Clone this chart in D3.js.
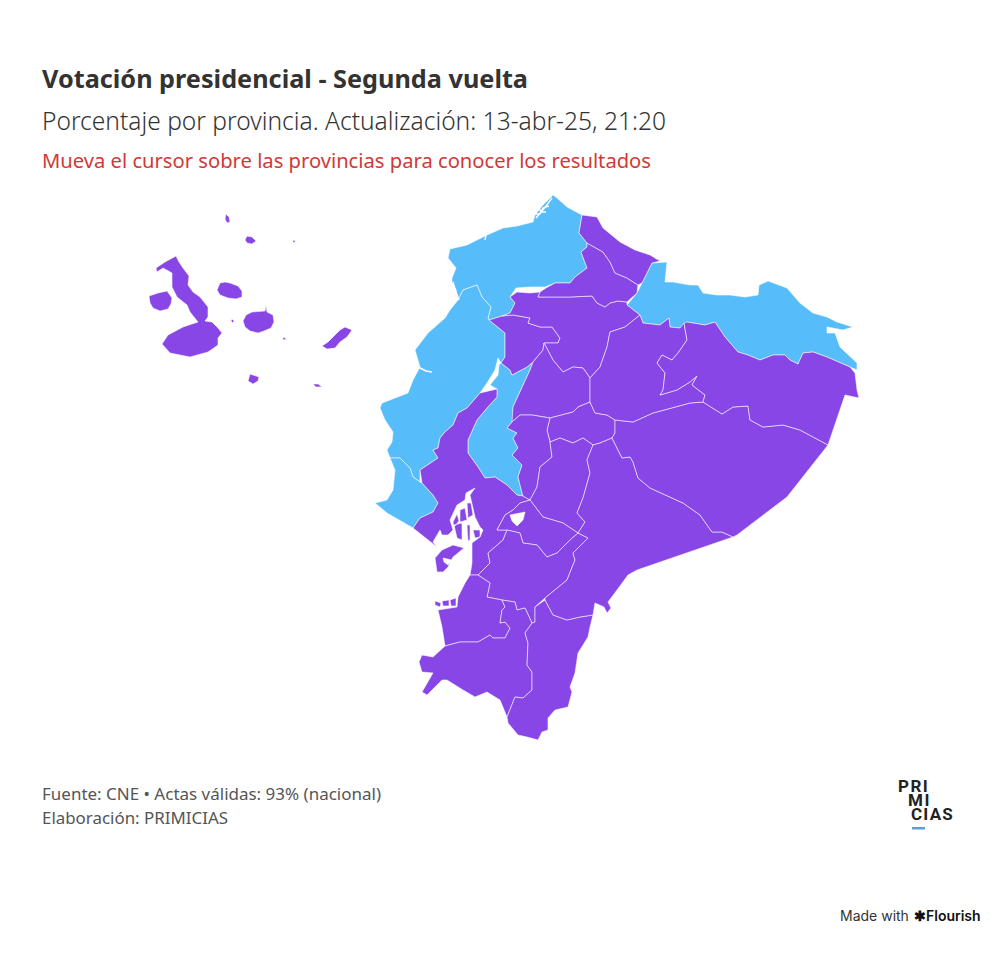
<!DOCTYPE html>
<html>
<head>
<meta charset="utf-8">
<script src="https://cdn.jsdelivr.net/npm/d3@7"></script>
<style>
  body { margin: 0; background: #fff; }
  svg { display: block; }
  text { font-family: "Noto Sans", Lato, sans-serif; }
</style>
</head>
<body>
<svg id="chart" width="1000" height="975"></svg>
<script>
// Who won each province
const candidates = ["Daniel Noboa", "Luisa González"];
const candidateColors = ["#8846e6", "#57bdfa"];

const provinceNames = [
  "Esmeraldas", "Manabí", "Santa Elena", "Los Ríos", "Sucumbíos",
  "Guayas", "Santo Domingo", "Pichincha", "Imbabura", "Carchi", "Cotopaxi",
  "Tungurahua", "Bolívar", "Chimborazo", "Cañar", "Azuay", "El Oro", "Loja",
  "Zamora Chinchipe", "Morona Santiago", "Pastaza", "Napo", "Orellana", "Galápagos"
];
const provinceWinners = [
  "Luisa González", "Luisa González", "Luisa González", "Luisa González", "Luisa González",
  "Daniel Noboa", "Daniel Noboa", "Daniel Noboa", "Daniel Noboa", "Daniel Noboa", "Daniel Noboa",
  "Daniel Noboa", "Daniel Noboa", "Daniel Noboa", "Daniel Noboa", "Daniel Noboa", "Daniel Noboa", "Daniel Noboa",
  "Daniel Noboa", "Daniel Noboa", "Daniel Noboa", "Daniel Noboa", "Daniel Noboa", "Daniel Noboa"
];

// Outlines, in map units (rings are closed in code)
const esmeraldas = [[[557,198],[567,207],[582,215],[579,233],[587,243],[587,247],[581,252],[587,268],[575,277],[570,283],[555,283],[545,287],[530,287],[516,288],[510,297],[515,303],[510,313],[502,316],[489,320],[488,318],[491,307],[482,297],[477,285],[463,290],[458,300],[456,290],[452,282],[452,278],[456,268],[448,258],[450,249],[467,245],[477,240],[487,235],[503,228],[517,226],[533,222],[535,215],[543,205],[549,199],[553,195]]];
const manabi = [[[458,300],[463,290],[477,285],[482,297],[491,307],[488,318],[489,320],[505,333],[505,357],[501,363],[498,358],[495,370],[487,383],[480,393],[467,408],[458,413],[453,425],[445,432],[440,438],[438,448],[433,450],[438,458],[420,470],[420,482],[413,477],[410,468],[400,458],[390,458],[387,450],[392,442],[393,432],[385,420],[380,408],[382,403],[408,393],[413,380],[420,367],[415,350],[428,333],[445,318],[450,310]]];
const santaElena = [[[390,458],[400,458],[410,468],[413,477],[420,482],[422,483],[433,495],[438,503],[433,512],[420,518],[413,528],[387,513],[375,503],[387,500],[393,490],[395,470]]];
const losRios = [[[499,365],[501,363],[510,370],[512,375],[527,367],[533,362],[530,370],[513,407],[513,418],[512,422],[507,428],[517,433],[513,438],[518,448],[512,455],[522,465],[518,477],[522,493],[523,496],[517,495],[507,485],[495,477],[485,478],[478,467],[468,453],[468,440],[477,420],[487,408],[497,397],[497,389],[490,385],[498,375]]];
const sucumbios = [[[652,263],[667,262],[665,282],[673,282],[690,285],[698,285],[703,293],[717,295],[730,295],[745,297],[758,295],[759,285],[768,281],[787,288],[800,303],[813,313],[827,317],[837,322],[853,327],[843,330],[827,327],[827,333],[835,333],[840,347],[857,363],[857,370],[850,367],[827,357],[813,352],[803,353],[798,364],[790,360],[785,355],[773,355],[760,360],[748,355],[738,352],[725,337],[715,322],[705,325],[687,322],[680,328],[670,327],[669,318],[660,325],[643,323],[640,315],[627,305],[637,293],[642,283]]];
const guayas = [
  [[480,393],[497,389],[497,397],[487,408],[477,420],[468,440],[468,453],[478,467],[485,478],[495,477],[507,485],[517,495],[523,496],[530,500],[520,503],[513,510],[505,515],[497,530],[507,530],[503,540],[488,553],[490,563],[478,575],[470,575],[472,563],[472,543],[480,537],[483,530],[480,527],[475,517],[470,495],[475,488],[466,493],[465,500],[457,505],[450,520],[453,530],[448,535],[442,535],[440,530],[433,542],[437,547],[413,528],[420,518],[433,512],[438,503],[433,495],[422,483],[420,470],[438,458],[433,450],[438,448],[440,438],[445,432],[453,425],[458,413],[467,408]],
  [[454,525],[462,523],[462,540],[457,538]],
  [[467,525],[470,525],[470,540],[468,541]],
  [[473,530],[480,530],[480,537],[475,538]],
  [[460,510],[465,508],[467,520],[460,522]],
  [[467,503],[471,503],[473,515],[468,518]],
  [[453,522],[457,514],[459,521],[454,527]],
  [[435,558],[442,550],[453,545],[464,548],[458,553],[453,557],[448,567],[443,572],[437,572]],
  [[443,558],[452,560],[448,565],[444,562]]
];
const santoDomingo = [[[489,320],[502,316],[513,315],[530,318],[528,323],[540,327],[552,327],[560,338],[558,343],[544,343],[543,350],[533,362],[527,367],[512,375],[510,370],[501,363],[505,357],[505,333]]];
const pichincha = [[[510,297],[517,292],[530,293],[540,292],[538,297],[550,297],[570,297],[592,296],[597,303],[605,307],[610,303],[618,301],[627,302],[627,305],[640,315],[625,327],[610,332],[607,347],[600,367],[590,378],[583,368],[573,367],[563,372],[553,360],[544,343],[558,343],[560,338],[552,327],[540,327],[528,323],[530,318],[513,315],[502,316],[510,313],[515,303]]];
const imbabura = [[[538,297],[540,292],[546,288],[555,283],[570,283],[575,277],[587,268],[581,252],[587,247],[587,243],[603,252],[610,262],[615,273],[627,278],[638,285],[637,293],[627,302],[618,301],[610,303],[605,307],[597,303],[592,296],[570,297],[550,297]]];
const carchi = [[[582,215],[597,217],[603,228],[620,242],[635,250],[650,255],[660,261],[652,263],[642,283],[638,285],[627,278],[615,273],[610,262],[603,252],[587,243],[579,233]]];
const cotopaxi = [[[544,343],[553,360],[563,372],[573,367],[583,368],[590,378],[590,402],[578,407],[573,412],[550,418],[532,415],[520,415],[512,422],[513,407],[530,370],[533,362],[543,350]]];
const tungurahua = [[[550,418],[573,412],[578,407],[590,402],[595,413],[607,415],[615,420],[615,433],[612,438],[600,443],[593,445],[583,438],[573,443],[560,438],[550,442],[547,430]]];
const bolivar = [[[512,422],[520,415],[532,415],[550,418],[547,430],[550,442],[552,457],[540,467],[537,487],[530,500],[523,496],[522,493],[518,477],[522,465],[512,455],[518,448],[513,438],[517,433],[507,428]]];
const chimborazo = [[[550,442],[560,438],[573,443],[583,438],[593,445],[587,460],[590,473],[583,498],[577,513],[585,522],[578,533],[563,523],[543,517],[530,500],[537,487],[540,467],[552,457]]];
const canar = [
  [[530,500],[543,517],[563,523],[578,533],[570,540],[557,553],[547,557],[537,545],[523,543],[520,533],[507,530],[497,530],[505,515],[513,510],[520,503]],
  [[510,515],[525,512],[523,520],[517,526],[512,521]]
];
const azuay = [[[503,540],[507,530],[520,533],[523,543],[537,545],[547,557],[557,553],[570,540],[578,533],[588,538],[583,543],[573,553],[575,560],[567,580],[545,598],[535,607],[535,622],[532,623],[525,608],[517,610],[515,602],[502,600],[487,597],[490,583],[478,575],[490,563],[488,553]]];
const elOro = [
  [[470,575],[478,575],[490,583],[487,597],[502,600],[505,607],[502,610],[500,623],[505,622],[510,628],[505,638],[493,638],[490,635],[478,642],[460,642],[445,646],[442,627],[438,610],[457,607],[458,597],[465,583]],
  [[435,601],[441,603],[440,607],[435,605]],
  [[442,601],[449,600],[449,606],[443,606]],
  [[450,600],[456,598],[456,606],[451,606]]
];
const loja = [[[445,646],[460,642],[478,642],[490,635],[493,638],[505,638],[510,628],[505,622],[500,623],[502,610],[505,607],[502,600],[515,602],[517,610],[525,608],[532,623],[525,633],[528,643],[527,665],[532,672],[532,690],[523,698],[515,697],[507,717],[500,700],[487,692],[475,697],[463,690],[447,680],[442,680],[427,695],[422,692],[433,673],[422,672],[419,662],[422,655],[433,657]]];
const zamora = [[[545,600],[553,615],[567,620],[580,617],[593,615],[590,627],[588,637],[578,653],[575,673],[570,687],[572,692],[568,707],[555,710],[548,718],[548,730],[542,732],[538,740],[527,737],[518,735],[508,723],[507,717],[515,697],[523,698],[532,690],[532,672],[527,665],[528,643],[525,633],[532,623],[535,622],[535,607]]];
const morona = [[[612,438],[622,458],[630,457],[633,462],[638,478],[650,488],[683,503],[700,515],[712,532],[722,532],[733,537],[637,570],[628,575],[617,590],[608,602],[611,608],[607,613],[604,607],[595,603],[593,615],[580,617],[567,620],[553,615],[545,600],[545,598],[567,580],[575,560],[573,553],[583,543],[588,538],[578,533],[585,522],[577,513],[583,498],[590,473],[587,460],[593,445],[600,443]]];
const pastaza = [[[615,420],[633,422],[653,413],[690,403],[703,402],[722,414],[733,407],[748,406],[750,420],[763,427],[783,425],[800,430],[828,445],[787,497],[737,535],[733,537],[722,532],[712,532],[700,515],[683,503],[650,488],[638,478],[633,462],[630,457],[622,458],[612,438],[615,433]]];
const napo = [[[640,315],[625,327],[610,332],[607,347],[600,367],[590,378],[590,402],[595,413],[607,415],[615,420],[633,422],[653,413],[690,403],[703,402],[705,395],[692,385],[697,376],[690,382],[677,390],[660,395],[663,390],[665,373],[657,363],[662,355],[672,360],[678,353],[687,340],[684,323],[680,328],[670,327],[669,318],[660,325],[643,323]]];
const orellana = [[[684,323],[687,322],[705,325],[715,322],[725,337],[738,352],[748,355],[760,360],[773,355],[785,355],[790,360],[798,364],[803,353],[813,352],[827,357],[850,367],[855,373],[857,390],[859,398],[845,395],[828,445],[800,430],[783,425],[763,427],[750,420],[748,406],[733,407],[722,414],[703,402],[705,395],[692,385],[697,376],[690,382],[677,390],[660,395],[663,390],[665,373],[657,363],[662,355],[672,360],[678,353],[687,340]]];
const galapagos = [
  [[176,256],[179,262],[183,268],[189,276],[188,285],[193,292],[200,297],[208,307],[208,317],[205,321],[212,322],[218,328],[222,333],[218,338],[218,345],[208,352],[190,357],[170,353],[162,344],[168,335],[183,327],[198,322],[190,312],[187,305],[177,297],[172,287],[172,273],[163,268],[157,272],[156,268],[165,262]],
  [[149,296],[158,293],[167,291],[172,298],[171,304],[168,309],[160,311],[153,308],[150,303]],
  [[217,290],[220,283],[225,282],[230,283],[238,286],[242,291],[242,297],[236,299],[228,298],[220,295]],
  [[266,305],[267,312],[273,315],[274,322],[271,328],[264,331],[258,333],[250,331],[245,327],[243,321],[246,315],[252,312],[265,311]],
  [[345,327],[352,330],[347,337],[340,342],[335,348],[327,349],[322,346],[328,342],[335,335],[340,330]],
  [[250,374],[259,377],[258,381],[253,384],[248,381]],
  [[313,384],[318,384],[322,387],[316,387]],
  [[226,214],[229,217],[230,222],[227,223],[225,219]],
  [[247,236],[252,237],[256,241],[252,244],[247,243],[245,240]],
  [[293,240],[296,241],[293,243]],
  [[232,319],[234,321],[233,323],[231,321]],
  [[283,337],[287,339],[283,340]]
];

const provinceShapes = [
  esmeraldas, manabi, santaElena, losRios, sucumbios,
  guayas, santoDomingo, pichincha, imbabura, carchi, cotopaxi,
  tungurahua, bolivar, chimborazo, canar, azuay, elOro, loja,
  zamora, morona, pastaza, napo, orellana, galapagos
];

// Thin water channels that cut through the coast
const waterChannels = [
  [[536,218],[541,212],[546,206],[552,198]],
  [[534,214],[540,214],[543,208],[549,206]],
  [[538,208],[542,212],[546,212]],
  [[453,282],[456,292],[459,300]],
  [[418,367],[426,371],[432,372]],
  [[486,235],[485,240]]
];

const titleLines = ["Votación presidencial - Segunda vuelta"];
const subtitleLines = ["Porcentaje por provincia. Actualización: 13-abr-25, 21:20"];
const hintLines = ["Mueva el cursor sobre las provincias para conocer los resultados"];
const sourceLines = ["Fuente: CNE • Actas válidas: 93% (nacional)", "Elaboración: PRIMICIAS"];
const sourceWidths = [339, 186];
const logoLines = ["PRI", "MI", "CIAS"];

const svg = d3.select("#chart");

const color = d3.scaleOrdinal().domain(candidates).range(candidateColors);

const features = provinceShapes.map((rings, i) => ({
  type: "Feature",
  properties: { name: provinceNames[i], winner: provinceWinners[i] },
  geometry: {
    type: "MultiPolygon",
    coordinates: rings.map(r => [r.concat([r[0]])])
  }
}));
const land = { type: "FeatureCollection", features: features };

const projection = d3.geoIdentity().fitExtent([[149, 195], [859, 740]], land);
const path = d3.geoPath(projection);

svg.append("g")
  .selectAll("path")
  .data(features)
  .join("path")
  .attr("d", path)
  .attr("fill", d => color(d.properties.winner))
  .attr("fill-rule", "evenodd")
  .attr("stroke", "#fff")
  .attr("stroke-opacity", 0.7)
  .attr("stroke-width", 0.8)
  .attr("stroke-linejoin", "round")
  .append("title")
  .text(d => d.properties.name);

svg.append("g")
  .selectAll("path")
  .data(waterChannels)
  .join("path")
  .attr("d", d => path({ type: "LineString", coordinates: d }))
  .attr("fill", "none")
  .attr("stroke", "#fff")
  .attr("stroke-width", 1.4);

// Headings, squeezed to the widths of the original font
svg.append("text").attr("x", 42).attr("y", 88)
  .attr("font-size", 25).attr("font-weight", 700).attr("fill", "#333")
  .attr("textLength", 486).attr("lengthAdjust", "spacingAndGlyphs")
  .text(titleLines[0]);
svg.append("text").attr("x", 42).attr("y", 130)
  .attr("font-size", 25).attr("font-weight", 300).attr("fill", "#333")
  .attr("textLength", 624).attr("lengthAdjust", "spacingAndGlyphs")
  .text(subtitleLines[0]);
svg.append("text").attr("x", 42).attr("y", 168)
  .attr("font-size", 20).attr("fill", "#cf3a37")
  .attr("textLength", 609).attr("lengthAdjust", "spacingAndGlyphs")
  .text(hintLines[0]);

svg.selectAll(".source")
  .data(sourceLines)
  .join("text")
  .attr("class", "source")
  .attr("x", 42)
  .attr("y", (d, i) => 800 + i * 24)
  .attr("font-size", 16)
  .attr("fill", "#555")
  .attr("textLength", (d, i) => sourceWidths[i])
  .attr("lengthAdjust", "spacingAndGlyphs")
  .text(d => d);

// Logo, one text block so the tight lines stay together
const logo = svg.append("text")
  .attr("font-size", 17)
  .attr("font-weight", 700)
  .attr("fill", "#222")
  .style("font-family", "Roboto");
logo.selectAll("tspan")
  .data(logoLines)
  .join("tspan")
  .attr("x", (d, i) => [898, 908, 911][i])
  .attr("y", (d, i) => 792 + i * 14)
  .attr("letter-spacing", (d, i) => [1.5, 1.5, 1.2][i])
  .text(d => d);
svg.append("rect").attr("x", 912).attr("y", 827).attr("width", 13).attr("height", 2.5).attr("fill", "#4aa8d8");

svg.append("text").attr("x", 840).attr("y", 921)
  .attr("font-size", 14).attr("fill", "#333")
  .style("font-family", "Inter")
  .text("Made with");
svg.append("text").attr("x", 914).attr("y", 921)
  .attr("font-size", 14).attr("font-weight", 600).attr("fill", "#111")
  .style("font-family", "Inter")
  .text("✱Flourish");
</script>
</body>
</html>
